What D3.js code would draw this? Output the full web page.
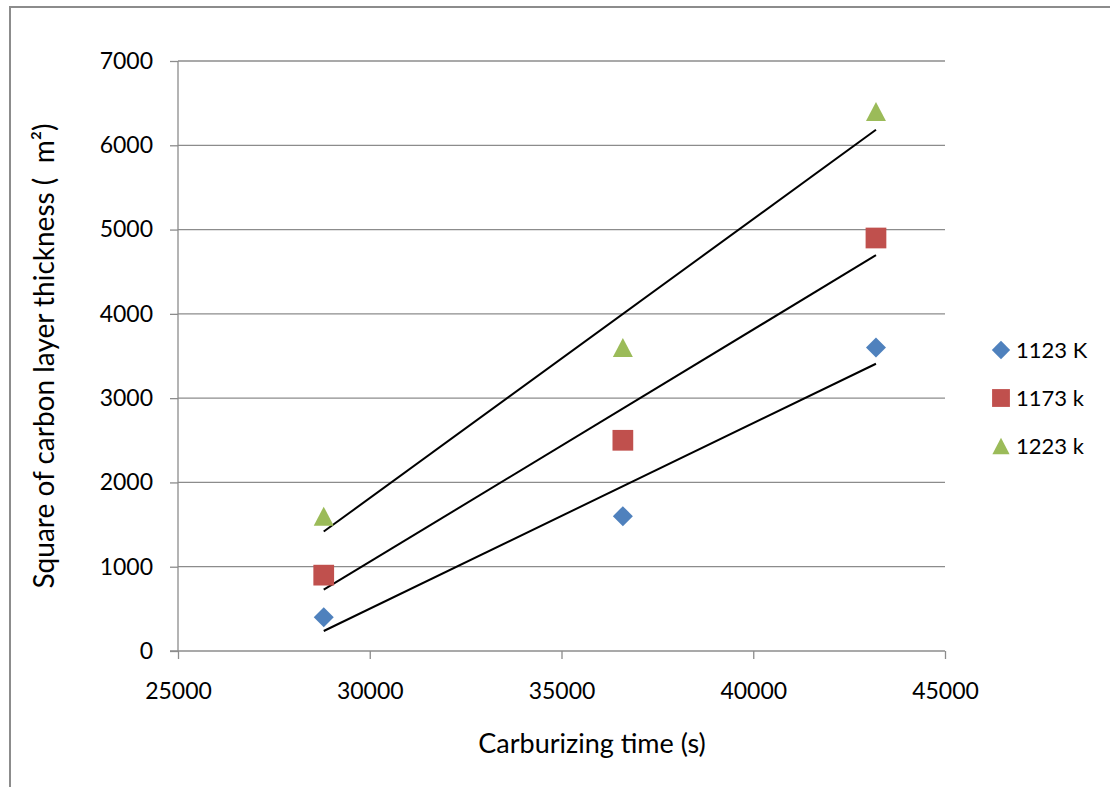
<!DOCTYPE html>
<html>
<head>
<meta charset="utf-8">
<script src="https://cdn.jsdelivr.net/npm/d3@7"></script>
<style>
  body { margin: 0; background: #fff; }
  svg text { font-family: Lato, "Open Sans", sans-serif; fill: #000; }
</style>
</head>
<body>
<div id="chart"></div>
<script>
// carburizing time (s)
const times = [28800, 36600, 43200];
const series = [
    {name: "1123 K", values: [400, 1600, 3600], color: "#4F81BD", shape: "diamond"},
    {name: "1173 k", values: [900, 2500, 4900], color: "#C0504D", shape: "square"},
    {name: "1223 k", values: [1600, 3600, 6400], color: "#9BBB59", shape: "triangle"}
];
const xTicks = [25000, 30000, 35000, 40000, 45000];
const yTicks = [0, 1000, 2000, 3000, 4000, 5000, 6000, 7000];

const W = 1110, H = 787;
const svg = d3.select("#chart").append("svg")
    .attr("width", W)
    .attr("height", H);

// outer frame
svg.append("path")
    .attr("d", `M10,${H} L10,7 L${W},7`)
    .attr("fill", "none")
    .attr("stroke", "#8c8c8c")
    .attr("stroke-width", 2);

const x = d3.scaleLinear().domain([25000, 45000]).range([178, 945]);
const y = d3.scaleLinear().domain([0, 7000]).range([651, 61]);

// gridlines
svg.append("g")
    .selectAll("line")
    .data(yTicks.filter(d => d > 0))
    .join("line")
    .attr("x1", x(25000)).attr("x2", x(45000))
    .attr("y1", d => y(d)).attr("y2", d => y(d))
    .attr("stroke", "#8c8c8c")
    .attr("stroke-width", 1.3);

const yAxis = g => g
    .attr("transform", `translate(${x(25000)},0)`)
    .call(d3.axisLeft(y).tickValues(yTicks).tickSize(8).tickPadding(17).tickFormat(d3.format("d")))
    .call(g => g.selectAll("line, path").attr("stroke", "#8c8c8c").attr("stroke-width", 1.3))
    .call(g => g.select(".domain").attr("d", `M0,${y(0)}V${y(7000)}`))
    .call(g => g.selectAll("text").attr("font-size", 23));

const xAxis = g => g
    .attr("transform", `translate(0,${y(0)})`)
    .call(d3.axisBottom(x).tickValues(xTicks).tickSize(8).tickPadding(24).tickFormat(d3.format("d")))
    .call(g => g.selectAll("line, path").attr("stroke", "#8c8c8c").attr("stroke-width", 1.3))
    .call(g => g.select(".domain").attr("d", `M${x(25000) - 8},0H${x(45000)}`))
    .call(g => g.selectAll("text").attr("font-size", 23));

svg.append("g").call(yAxis);
svg.append("g").call(xAxis);

// axis titles
svg.append("text")
    .attr("transform", `translate(54,${(y(0) + y(7000)) / 2}) rotate(-90)`)
    .attr("text-anchor", "middle")
    .attr("font-size", 28)
    .text("Square of carbon layer thickness (\u00a0\u00a0m\u00b2)");

svg.append("text")
    .attr("x", 592)
    .attr("y", 753)
    .attr("text-anchor", "middle")
    .attr("font-size", 27)
    .text("Carburizing time (s)");

// linear trendlines (least squares fit of each series)
function fit(xs, ys) {
    const mx = d3.mean(xs), my = d3.mean(ys);
    const sxy = d3.sum(xs, (v, i) => (v - mx) * (ys[i] - my));
    const sxx = d3.sum(xs, v => (v - mx) * (v - mx));
    const b = sxy / sxx;
    return t => my + b * (t - mx);
}

const xMin = d3.min(times), xMax = d3.max(times);
svg.append("g")
    .selectAll("line")
    .data(series)
    .join("line")
    .attr("x1", x(xMin))
    .attr("x2", x(xMax))
    .attr("y1", d => y(fit(times, d.values)(xMin)))
    .attr("y2", d => y(fit(times, d.values)(xMax)))
    .attr("stroke", "#000")
    .attr("stroke-width", 2);

// box-centred triangle: width w, height h
const boxTriangle = (w, h) => ({
    draw(ctx) {
        ctx.moveTo(0, -h / 2);
        ctx.lineTo(w / 2, h / 2);
        ctx.lineTo(-w / 2, h / 2);
        ctx.closePath();
    }
});

const markerPath = (shape, scale) => {
    if (shape === "diamond") return d3.symbol().type(d3.symbolSquare).size(200 * scale * scale)();
    if (shape === "square") return d3.symbol().type(d3.symbolSquare).size(430 * scale * scale)();
    return d3.symbol().type(boxTriangle(20 * scale, 19 * scale))();
};
const rot = s => s === "diamond" ? " rotate(45)" : "";

series.forEach(s => {
    svg.append("g")
        .selectAll("path")
        .data(s.values)
        .join("path")
        .attr("d", markerPath(s.shape, 1))
        .attr("transform", (d, i) => `translate(${x(times[i])},${y(d)})${rot(s.shape)}`)
        .attr("fill", s.color);
});

// legend
const legend = svg.append("g")
    .selectAll("g")
    .data(series)
    .join("g")
    .attr("transform", (d, i) => `translate(1001,${350 + i * 48})`);

legend.append("path")
    .attr("d", d => markerPath(d.shape, d.shape === "diamond" ? 0.92 : 0.86))
    .attr("transform", d => `translate(0,0)${rot(d.shape)}`)
    .attr("fill", d => d.color);

legend.append("text")
    .attr("x", 15)
    .attr("y", 8)
    .attr("font-size", 22)
    .text(d => d.name);
</script>
</body>
</html>
